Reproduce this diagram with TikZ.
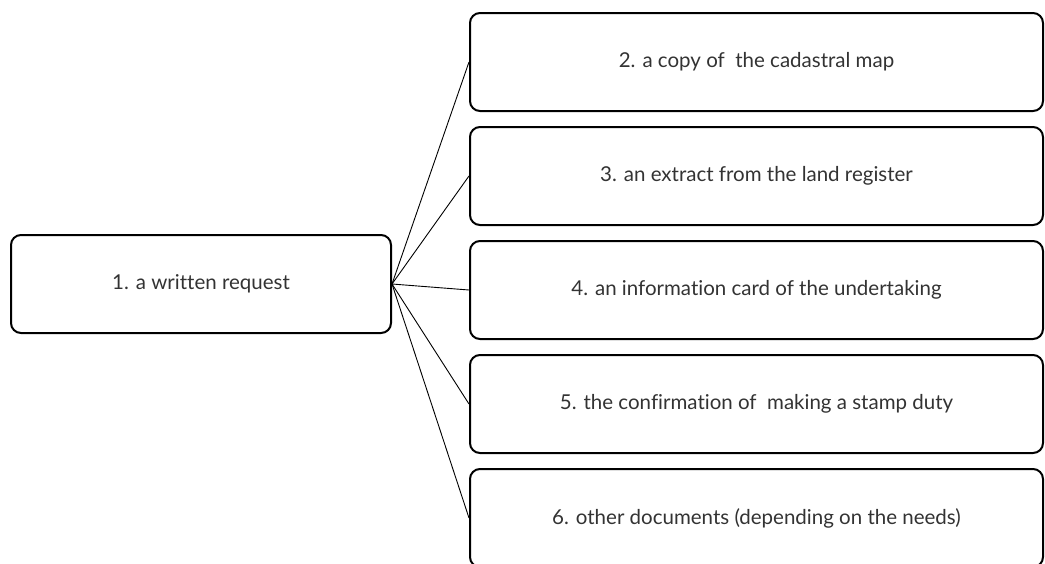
\documentclass[tikz,border=0pt]{standalone}
\usepackage{fontspec}
\setmainfont{Lato}[Ligatures=NoCommon]
\begin{document}
\begin{tikzpicture}[x=1pt,y=-1pt,
  docbox/.style={rectangle, rounded corners=10pt, draw=black, line width=2pt, fill=none,
    minimum height=98pt, text=black!80, font=\fontsize{20.5}{24}\selectfont},
  leftbox/.style={docbox, minimum width=380pt},
  rightbox/.style={docbox, minimum width=573pt},
  link/.style={draw=black, line width=0.9pt}]
\useasboundingbox (0,0) rectangle (1045,563);
\clip (0,0) rectangle (1045,563);
\node [leftbox] (req) at (201,284) {1. a written request};
\node [rightbox] (map) at (756.5,62) {2. a copy of~ the cadastral map};
\node [rightbox] (extract) at (756.5,176) {3. an extract from the land register};
\node [rightbox] (card) at (756.5,290) {4. an information card of the undertaking};
\node [rightbox] (duty) at (756.5,404) {5. the confirmation of~ making a stamp duty};
\node [rightbox] (other) at (756.5,518) {6. other documents (depending on the needs)};
\draw [link] (req.east) -- (map.west);
\draw [link] (req.east) -- (extract.west);
\draw [link] (req.east) -- (card.west);
\draw [link] (req.east) -- (duty.west);
\draw [link] (req.east) -- (other.west);
\end{tikzpicture}
\end{document}
